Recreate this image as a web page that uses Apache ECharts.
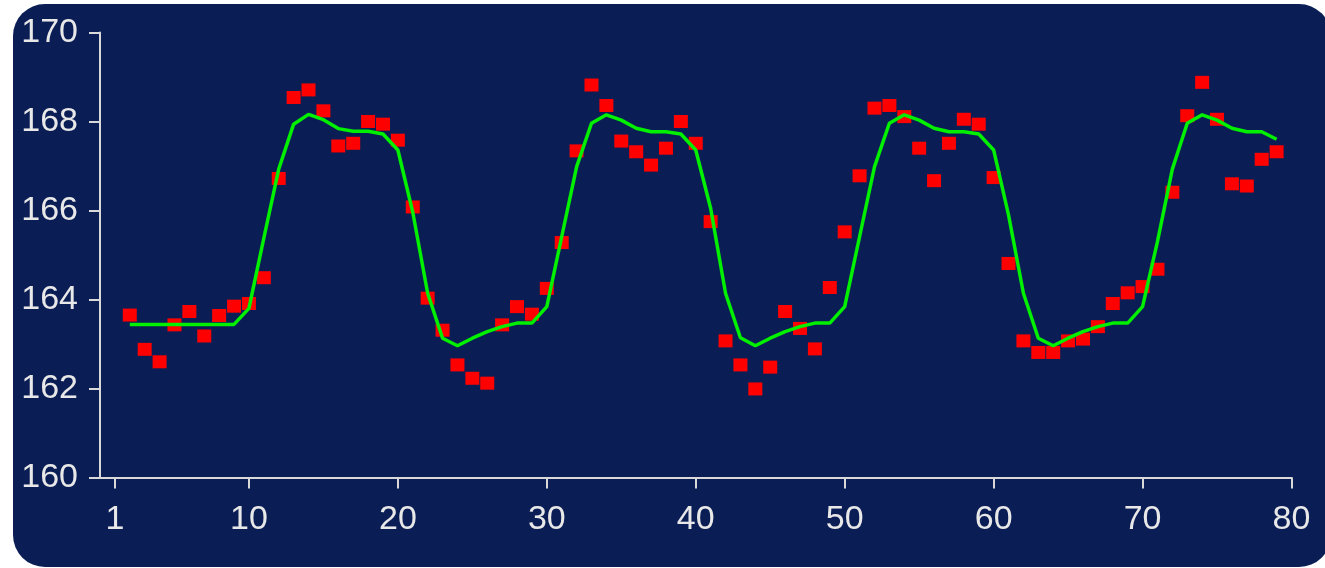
<!DOCTYPE html>
<html>
<head>
<meta charset="utf-8">
<script src="https://cdn.jsdelivr.net/npm/echarts@6.0.0/dist/echarts.min.js"></script>
<style>
  html, body { margin: 0; padding: 0; background: #ffffff; }
  #chart { width: 1325px; height: 568px; }
</style>
</head>
<body>
<div id="chart"></div>
<script>
// ---- data ----
const xValues = [2,3,4,5,6,7,8,9,10,11,12,13,14,15,16,17,18,19,20,
  21,22,23,24,25,26,27,28,29,30,31,32,33,34,35,36,37,38,39,40,
  41,42,43,44,45,46,47,48,49,50,51,52,53,54,55,56,57,58,59,60,
  61,62,63,64,65,66,67,68,69,70,71,72,73,74,75,76,77,78,79];

const observed = [163.65,162.88,162.60,163.43,163.73,163.18,163.64,163.85,163.91,164.49,166.72,168.54,168.71,168.24,167.45,167.51,168.00,167.94,167.58,
  166.08,164.03,163.31,162.53,162.23,162.12,163.43,163.84,163.67,164.25,165.28,167.34,168.82,168.36,167.56,167.32,167.02,167.40,168.00,167.51,
  165.75,163.07,162.53,161.99,162.48,163.73,163.35,162.89,164.27,165.52,166.78,168.30,168.36,168.11,167.40,166.67,167.51,168.05,167.94,166.74,
  164.81,163.07,162.81,162.81,163.07,163.11,163.39,163.91,164.15,164.29,164.68,166.41,168.13,168.88,168.05,166.60,166.55,167.15,167.32];

const fitted = [163.44,163.44,163.44,163.44,163.44,163.44,163.44,163.44,163.80,165.38,166.93,167.94,168.16,168.04,167.84,167.78,167.78,167.72,167.36,
  165.96,164.14,163.13,162.96,163.13,163.28,163.39,163.47,163.47,163.84,165.41,166.98,167.96,168.15,168.03,167.85,167.77,167.77,167.72,167.36,
  166.05,164.14,163.14,162.96,163.13,163.28,163.39,163.47,163.47,163.84,165.41,166.98,167.96,168.15,168.03,167.85,167.77,167.77,167.72,167.36,
  165.90,164.14,163.13,162.96,163.13,163.28,163.39,163.47,163.47,163.84,165.30,166.93,167.96,168.15,168.03,167.85,167.77,167.77,167.60];

const xTicks = [1,10,20,30,40,50,60,70,80];
const yTicks = [160,162,164,166,168,170];

// ---- chart ----
const chart = echarts.init(document.getElementById('chart'), null, { renderer: 'canvas' });
const pts = xValues.map((x, i) => [x, observed[i]]);
const fit = xValues.map((x, i) => [x, fitted[i]]);

const axisColor = '#d9d9d9';
const labelStyle = { color: '#e8e8e8', fontFamily: 'Liberation Sans', fontSize: 34 };

chart.setOption({
  animation: false,
  backgroundColor: '#ffffff',
  graphic: [{
    type: 'rect', silent: true, z: -100,
    shape: { x: 13, y: 4, width: 1318, height: 563, r: 32 },
    style: { fill: '#0a1e55' }
  }],
  grid: { left: 100, right: 33.5, top: 32.5, bottom: 90.5 },
  xAxis: {
    type: 'value', min: 0, max: 80,
    splitLine: { show: false },
    axisLine: { show: true, lineStyle: { color: axisColor, width: 2 } },
    axisTick: { show: true, length: 11, customValues: xTicks, lineStyle: { color: axisColor, width: 2 } },
    axisLabel: Object.assign({ customValues: xTicks, margin: 25 }, labelStyle)
  },
  yAxis: {
    type: 'value', min: 160, max: 170, interval: 2,
    splitLine: { show: false },
    axisLine: { show: true, lineStyle: { color: axisColor, width: 2 } },
    axisTick: { show: true, length: 11, lineStyle: { color: axisColor, width: 2 } },
    axisLabel: Object.assign({ margin: 22 }, labelStyle)
  },
  series: [
    {
      type: 'scatter', data: pts, z: 2,
      symbol: 'rect',
      symbolSize: [14, 13],
      itemStyle: { color: '#ff0000', opacity: 1 }
    },
    {
      type: 'line', data: fit, z: 3,
      showSymbol: false, symbol: 'none',
      lineStyle: { color: '#00f000', width: 3.5 }
    }
  ]
});
</script>
</body>
</html>
